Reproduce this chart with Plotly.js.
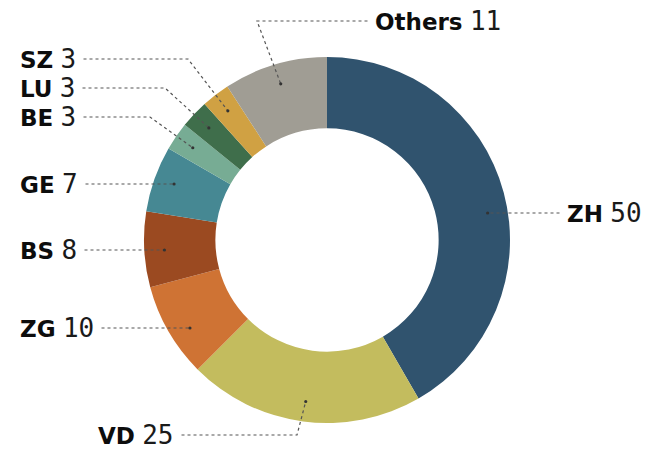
<!DOCTYPE html>
<html>
<head>
<meta charset="utf-8">
<script src="https://cdn.plot.ly/plotly-3.0.1.min.js"></script>
<style>
  html, body { margin: 0; padding: 0; background: #fff; }
  #chart { width: 654px; height: 451px; }
</style>
</head>
<body>
<div id="chart"></div>
<script>
'use strict';

// data
let cantons = ['ZH', 'VD', 'ZG', 'BS', 'GE', 'BE', 'LU', 'SZ', 'Others'];
let counts = [50, 25, 10, 8, 7, 3, 3, 3, 11];
let colors = ['#30536e', '#c3bc5e', '#cf7334', '#9b4a21', '#468893',
              '#77ac94', '#3f6e4b', '#d0a143', '#a09d94'];

// label placement (pixels): text start, line y, optional elbow x
let label_side = ['right', 'left', 'left', 'left', 'left', 'left', 'left', 'left', 'right'];
let label_x = [566, 97, 19, 19, 19, 19, 19, 19, 374];
let label_y = [213, 435, 328, 250, 184, 117, 88, 59, 21];
let label_elbow = [null, 297, null, null, null, 150, 165, 188, 257];

const W = 654, H = 451;
const CX = 327, CY = 240, R = 183;
const R_LABEL = 0.89 * R;

function px(x) { return x / W; }
function py(y) { return 1 - y / H; }

function anchors() {
  let total = counts.reduce((a, b) => a + b, 0);
  let cum = 0;
  let out = [];
  for (let i = 0; i < counts.length; i++) {
    let mid = (cum + counts[i] / 2) / total * 2 * Math.PI;
    cum += counts[i];
    if (label_elbow[i] === null) {
      // horizontal leader: hit the ring at the label's height
      let dy = label_y[i] - CY;
      let dx = Math.sqrt(Math.max(R_LABEL * R_LABEL - dy * dy, 0));
      out.push([CX + (Math.sin(mid) >= 0 ? dx : -dx), label_y[i]]);
    } else {
      out.push([CX + R_LABEL * Math.sin(mid), CY - R_LABEL * Math.cos(mid)]);
    }
  }
  return out;
}

let trace = {
  type: 'pie',
  labels: cantons,
  values: counts,
  sort: false,
  direction: 'clockwise',
  rotation: 0,
  hole: 0.61,
  textinfo: 'none',
  hoverinfo: 'none',
  marker: { colors: colors, line: { width: 0 } },
  domain: { x: [px(CX - R), px(CX + R)], y: [py(CY + R), py(CY - R)] },
  showlegend: false
};

let annotations = cantons.map((c, i) => ({
  xref: 'paper', yref: 'paper',
  x: px(label_x[i]), y: py(label_y[i]),
  xanchor: 'left', yanchor: 'middle',
  showarrow: false,
  borderpad: 0,
  text: '<b>' + c + '</b> <span style="font-family:\'DejaVu Sans Mono\',monospace;font-size:26px;font-weight:normal;color:#1a1a1a">' + counts[i] + '</span>',
  font: { family: 'DejaVu Sans, sans-serif', size: 23, color: '#0d0d0d' }
}));

let layout = {
  width: W, height: H,
  margin: { l: 0, r: 0, t: 0, b: 0 },
  paper_bgcolor: '#fff',
  showlegend: false,
  annotations: annotations
};

Plotly.newPlot('chart', [trace], layout, { staticPlot: true }).then(function (gd) {
  let box = gd.getBoundingClientRect();
  let texts = gd.querySelectorAll('.annotation-text-g');
  let pts = anchors();
  let shapes = [];
  for (let i = 0; i < cantons.length; i++) {
    let r = texts[i].getBoundingClientRect();
    let start = label_side[i] === 'left' ? r.right - box.left + 7 : r.left - box.left - 7;
    let path = [[start, label_y[i]]];
    if (label_elbow[i] !== null) path.push([label_elbow[i], label_y[i]]);
    path.push(pts[i]);
    shapes.push({
      type: 'path', xref: 'paper', yref: 'paper',
      path: path.map((p, k) => (k ? 'L' : 'M') + px(p[0]) + ',' + py(p[1])).join(' '),
      line: { color: '#555', width: 1.2, dash: 'dot' }
    });
    let a = pts[i];
    shapes.push({
      type: 'circle', xref: 'paper', yref: 'paper',
      x0: px(a[0] - 1.6), x1: px(a[0] + 1.6), y0: py(a[1] + 1.6), y1: py(a[1] - 1.6),
      fillcolor: '#333', line: { width: 0 }
    });
  }
  return Plotly.relayout(gd, { shapes: shapes });
});
</script>
</body>
</html>
